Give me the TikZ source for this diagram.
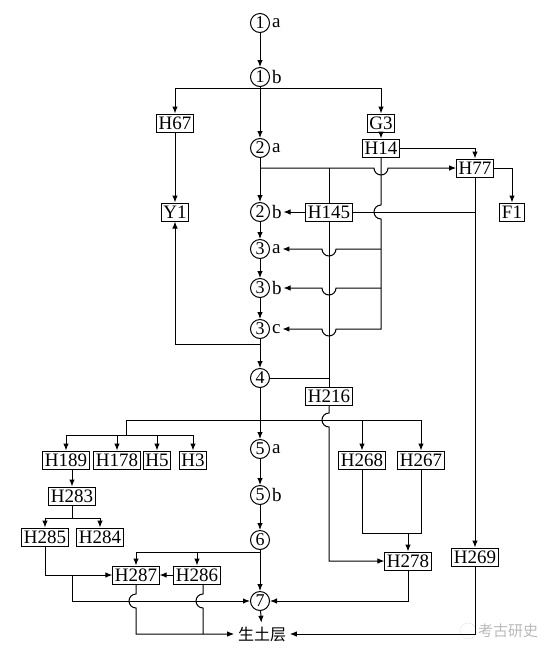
\documentclass[tikz,border=0pt]{standalone}
\usepackage{fontspec}
\setmainfont{Liberation Serif}
\newfontfamily\cjk{Noto Sans CJK SC}
\usepackage{tikz}
\usetikzlibrary{arrows.meta, positioning, calc}

\begin{document}
\begin{tikzpicture}[
    x=1pt, y=-1pt,
    line width=1pt,
    every node/.style={font=\fontsize{19}{21}\selectfont},
    every label/.style={font=\fontsize{19}{21}\selectfont, inner sep=1.5pt},
    layer/.style={draw, circle, inner sep=0pt, minimum size=19pt, font=\fontsize{18}{20}\selectfont},
    pit/.style={draw, rectangle, inner xsep=2pt, inner ysep=0pt, minimum height=18pt},
    arrow/.style={-{Latex[length=7pt,width=5.5pt]}}
]
    \useasboundingbox (0,0) rectangle (550,657);

    % layers
    \node[layer, label={[name=l1a]right:a}] (c1a) at (260,23) {1};
    \node[layer, label={[name=l1b]right:b}] (c1b) at (260,77) {1};
    \node[layer, label={[name=l2a]right:a}] (c2a) at (260,148) {2};
    \node[layer, label={[name=l2b]right:b}] (c2b) at (260,212) {2};
    \node[layer, label={[name=l3a]right:a}] (c3a) at (260,249) {3};
    \node[layer, label={[name=l3b]right:b}] (c3b) at (260,288) {3};
    \node[layer, label={[name=l3c]right:c}] (c3c) at (260,329) {3};
    \node[layer] (c4) at (260,378) {4};
    \node[layer, label={[name=l5a]right:a}] (c5a) at (260,449) {5};
    \node[layer, label={[name=l5b]right:b}] (c5b) at (260,495) {5};
    \node[layer] (c6) at (260,540) {6};
    \node[layer] (c7) at (260,601) {7};
    \node[font=\cjk\fontsize{16}{18}\selectfont] (soil) at (262,634) {生土层};

    % features
    \node[pit] (h67) at (175,123) {H67};
    \node[pit] (g3) at (381,123) {G3};
    \node[pit] (h14) at (381,148) {H14};
    \node[pit] (y1) at (175,212) {Y1};
    \node[pit] (h145) at (329,212) {H145};
    \node[pit] (h77) at (475,168) {H77};
    \node[pit] (f1) at (512,212) {F1};
    \node[pit] (h216) at (329,396) {H216};
    \node[pit] (h189) at (66,460) {H189};
    \node[pit] (h178) at (117,460) {H178};
    \node[pit] (h5) at (157,460) {H5};
    \node[pit] (h3) at (193,460) {H3};
    \node[pit] (h268) at (362,460) {H268};
    \node[pit] (h267) at (421,460) {H267};
    \node[pit] (h283) at (72,496) {H283};
    \node[pit] (h285) at (45,537) {H285};
    \node[pit] (h284) at (100,537) {H284};
    \node[pit] (h287) at (136,575) {H287};
    \node[pit] (h286) at (197,575) {H286};
    \node[pit] (h278) at (408,561) {H278};
    \node[pit] (h269) at (475,557) {H269};

    \node[font=\cjk\fontsize{15}{17}\selectfont, text=gray!55] (mark) at (508,631) {考古研史};
    \draw[gray!45, line width=0.5pt, densely dotted] (468,631) circle[radius=8pt];

    % upper part
    \draw[arrow] (c1a) -- (c1b);
    \draw[arrow] (c1b) -- (c2a);
    \coordinate (s1) at (260,88);
    \draw[arrow] (s1) -| (h67);
    \draw[arrow] (s1) -| (g3);
    \draw[arrow] (g3) -- (h14);
    \draw[arrow] (h67) -- (y1);
    \draw[arrow] (h14) -| (h77);
    \draw[arrow] (h77) -| (f1);
    \draw[arrow] (c2a) -- (c2b);
    \draw[arrow] (260,168) -- (374,168) arc[start angle=180, end angle=360, radius=7pt] -- (h77);
    \draw (329,168) -- (h145);
    \draw (h145) -- (h216);
    \draw[arrow] (h145) -- (l2b);
    \draw (h145) -- (475,212);
    \draw[arrow] (h77) -- (h269);

    % H14 over layer 3
    \draw[arrow] (h14) -- (381,205) arc[start angle=90, end angle=270, radius=7pt] -- (381,329)
        -- (336,329) arc[start angle=0, end angle=-180, radius=7pt] -- (l3c);
    \draw[arrow] (381,249) -- (336,249) arc[start angle=0, end angle=-180, radius=7pt] -- (l3a);
    \draw[arrow] (381,288) -- (336,288) arc[start angle=0, end angle=-180, radius=7pt] -- (l3b);

    \draw[arrow] (c2b) -- (c3a);
    \draw[arrow] (c3a) -- (c3b);
    \draw[arrow] (c3b) -- (c3c);
    \draw[arrow] (c3c) -- (c4);
    \draw[arrow] (260,344) -| (y1);
    \draw (c4) -- (329,378);
    \draw[arrow] (c4) -- (c5a);

    % pits cut into layer 5
    \draw (126,435) |- (260,420);
    \draw[arrow] (126,435) -| (h189);
    \draw[arrow] (126,435) -| (h178);
    \draw[arrow] (126,435) -| (h5);
    \draw[arrow] (126,435) -| (h3);
    \draw[arrow] (260,420) -| (h267);
    \draw[arrow] (362,420) -- (h268);
    \draw[arrow] (h216) -- (329,413) arc[start angle=90, end angle=270, radius=7pt] -- (329,561) -- (h278);
    \draw (h268) -- (362,533) -| (h267);
    \draw[arrow] (408,533) -- (h278);
    \draw[arrow] (h278) |- (c7);
    \draw[arrow] (h269) |- (soil);

    \draw[arrow] (c5a) -- (c5b);
    \draw[arrow] (c5b) -- (c6);
    \draw[arrow] (c6) -- (c7);
    \draw[arrow] (c7) -- (soil);

    % lower left
    \draw[arrow] (72,469) -- (h283);
    \draw (h283) -- (72,518);
    \draw[arrow] (72,518) -| (h285);
    \draw[arrow] (72,518) -| (h284);
    \draw[arrow] (260,552) -| (h287);
    \draw[arrow] (197,552) -- (h286);
    \draw[arrow] (h286) -- (h287);
    \draw[arrow] (h285) |- (h287);
    \draw[arrow] (72,575) |- (c7);
    \draw[arrow] (h287) -- (136,594) arc[start angle=90, end angle=270, radius=7pt] -- (136,634) -- (soil);
    \draw ([xshift=6pt]h286.south) -- (203,594) arc[start angle=90, end angle=270, radius=7pt] -- (203,634);
\end{tikzpicture}
\end{document}
